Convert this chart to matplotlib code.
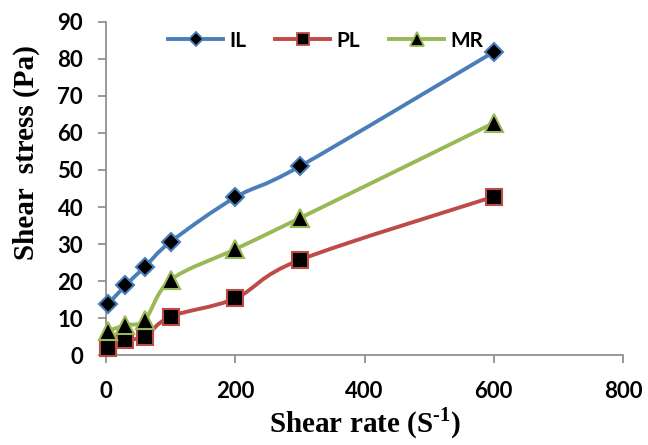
import matplotlib.pyplot as plt
from matplotlib.path import Path
from matplotlib.patches import PathPatch
from matplotlib.lines import Line2D

plt.rcParams['mathtext.fontset'] = 'custom'
plt.rcParams['mathtext.rm'] = 'Liberation Serif:bold'
plt.rcParams['mathtext.bf'] = 'Liberation Serif:bold'

# Data
shear_rate = [3, 30, 60, 100, 200, 300, 600]
il_stress = [13.7, 18.8, 23.8, 30.6, 42.6, 51.0, 81.9]
pl_stress = [1.8, 4.0, 5.0, 10.4, 15.3, 25.7, 42.8]
mr_stress = [6.5, 8.1, 9.5, 20.3, 28.6, 37.0, 62.7]

# name, values, colour, marker, marker size on plot, marker size in legend
series = [
    ('IL', il_stress, '#4A7EBB', 'D', 9, 7),
    ('PL', pl_stress, '#BE4B48', 's', 12, 9),
    ('MR', mr_stress, '#98B954', '^', 13, 10),
]


def smooth_path(xs, ys):
    # Excel-style smoothed line: cubic Bezier segments through the points
    pts = list(zip(xs, ys))
    n = len(pts)
    verts = [pts[0]]
    codes = [Path.MOVETO]
    for i in range(n - 1):
        p0 = pts[i - 1] if i > 0 else pts[i]
        p1 = pts[i]
        p2 = pts[i + 1]
        p3 = pts[i + 2] if i + 2 < n else pts[i + 1]
        c1 = (p1[0] + (p2[0] - p0[0]) / 6, p1[1] + (p2[1] - p0[1]) / 6)
        c2 = (p2[0] - (p3[0] - p1[0]) / 6, p2[1] - (p3[1] - p1[1]) / 6)
        verts += [c1, c2, p2]
        codes += [Path.CURVE4] * 3
    return Path(verts, codes)


fig = plt.figure(figsize=(6.48, 4.45), dpi=100)
ax = fig.add_axes([0.1636, 0.2022, 0.7978, 0.7484])

handles = []
for name, vals, color, marker, ms, lms in series:
    ax.add_patch(PathPatch(smooth_path(shear_rate, vals), facecolor='none',
                           edgecolor=color, lw=2.8, capstyle='round', zorder=2))
    ax.plot(shear_rate, vals, ls='none', marker=marker, ms=ms, mfc='black',
            mec=color, mew=1.5, zorder=3, clip_on=False)
    handles.append(Line2D([], [], color=color, lw=2.8, marker=marker, ms=lms,
                          mfc='black', mec=color, mew=1.3))

ax.set_xlim(0, 800)
ax.set_ylim(0, 90)
ax.set_xticks(range(0, 801, 200))
ax.set_yticks(range(0, 91, 10))

for s in ['top', 'right']:
    ax.spines[s].set_visible(False)
for s in ['left', 'bottom']:
    ax.spines[s].set_color('#888888')
    ax.spines[s].set_linewidth(1.2)
ax.tick_params(direction='out', length=5.5, width=1.2, color='#888888',
               labelsize=16)
ax.tick_params(axis='x', pad=13)
ax.tick_params(axis='y', pad=11)
for lbl in ax.get_xticklabels() + ax.get_yticklabels():
    lbl.set_fontfamily('Lato')
    lbl.set_fontweight('bold')

ax.set_xlabel(r'Shear rate (S$^{\text{-}1}$)', fontsize=21, fontweight='bold',
              fontfamily='Liberation Serif', labelpad=3)
ax.set_ylabel('Shear  stress (Pa)', fontsize=21, fontweight='bold',
              fontfamily='Liberation Serif')
ax.yaxis.set_label_coords(-0.127, 0.607)

leg = fig.legend(handles, [s[0] for s in series], loc='center left',
                 bbox_to_anchor=(168 / 648, 1 - 40.7 / 445), ncol=3,
                 frameon=False, borderpad=0, borderaxespad=0,
                 handlelength=2.64, columnspacing=1.4, handletextpad=0.3,
                 prop={'family': 'Lato', 'weight': 'bold', 'size': 15})

fig.savefig('out.png', dpi=100)
